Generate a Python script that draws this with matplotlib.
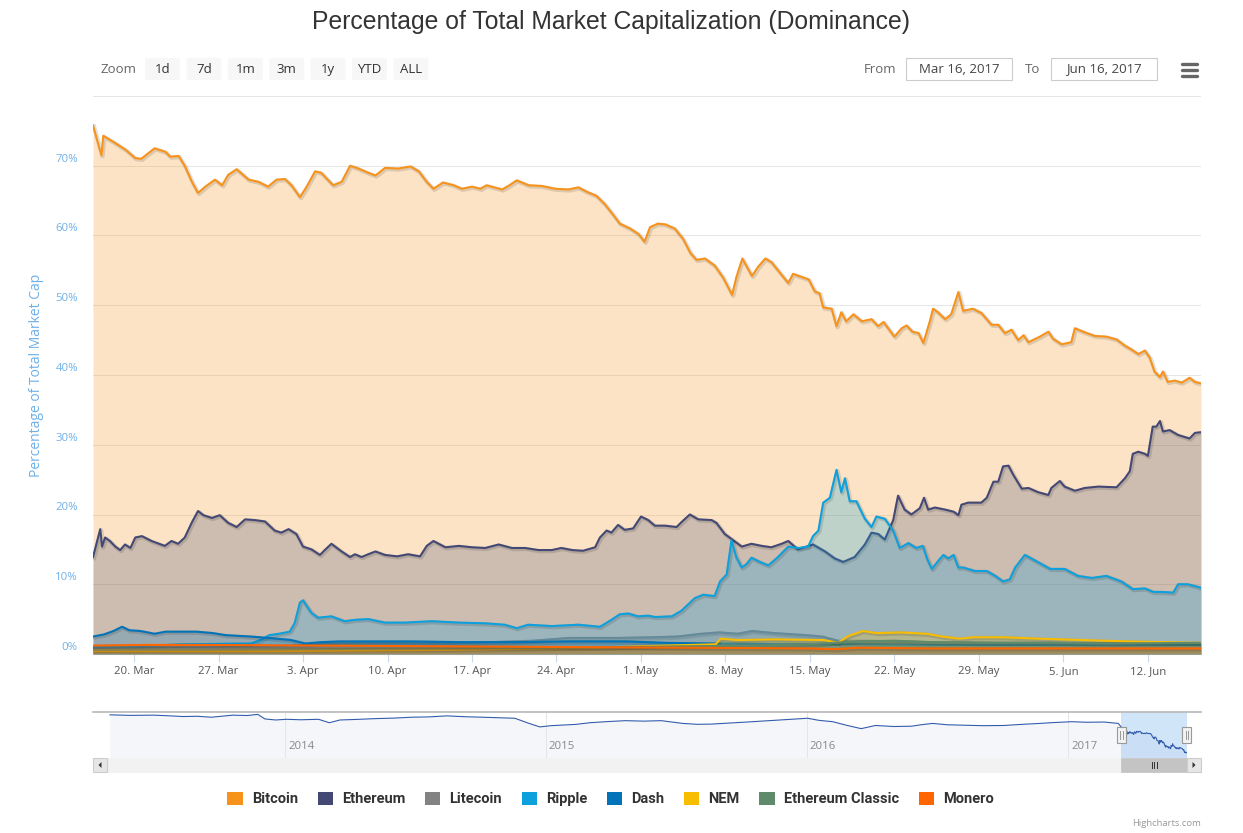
import datetime as dt
import matplotlib
matplotlib.use("Agg")
import matplotlib.pyplot as plt
import matplotlib.dates as mdates
import matplotlib.patheffects as pe
import matplotlib.transforms as mtransforms
from matplotlib.patches import Rectangle, FancyBboxPatch, Patch
from matplotlib.ticker import FuncFormatter

plt.rcParams['font.family'] = ['Open Sans', 'DejaVu Sans']

W, H = 1243, 833

# --- datos (dias desde el 16-mar-2017, % de dominancia) ---
start = dt.datetime(2017, 3, 16)
nav_start = dt.datetime(2013, 4, 28)

names = ['Bitcoin', 'Ethereum', 'Litecoin', 'Ripple', 'Dash', 'NEM',
         'Ethereum Classic', 'Monero']
colors = ['#f7931a', '#434875', '#838383', '#0ca0dc', '#0073b9', '#f9bd00',
          '#5f8b6c', '#ff6600']

btc = [(0.6, 75.8), (1.3, 71.5), (1.45, 74.3), (2.4, 73.3), (3.3, 72.3), (4.1, 71.1), (4.6, 71.0),
       (5.7, 72.5), (6.6, 72.0), (7.0, 71.3), (7.7, 71.4), (8.2, 70.0), (8.8, 67.7), (9.3, 66.1),
       (9.9, 67.0), (10.7, 68.0), (11.3, 67.2), (11.8, 68.7), (12.5, 69.5), (13.5, 68.0), (14.3, 67.7),
       (15.1, 67.0), (15.8, 68.0), (16.5, 68.1), (17.05, 67.2), (17.75, 65.5), (18.3, 67.0), (19.0, 69.2),
       (19.5, 69.0), (20.5, 67.2), (21.2, 67.7), (21.9, 70.0), (22.6, 69.6), (23.4, 69.0), (24.0, 68.6),
       (24.8, 69.7), (25.9, 69.6), (26.9, 69.9), (27.6, 69.2), (28.25, 67.7), (28.8, 66.7), (29.6, 67.6),
       (30.5, 67.2), (31.15, 66.7), (32.0, 67.0), (32.7, 66.7), (33.2, 67.2), (34.5, 66.6), (35.1, 67.2),
       (35.7, 67.9), (36.7, 67.2), (37.8, 67.1), (38.9, 66.7), (40.0, 66.6), (40.8, 66.9), (41.6, 66.2),
       (42.3, 65.7), (43.0, 64.5), (43.6, 63.2), (44.25, 61.7), (45.1, 61.0), (45.8, 60.2), (46.3, 59.1),
       (46.75, 61.2), (47.4, 61.7), (48.0, 61.6), (48.8, 61.0), (49.5, 59.5), (50.1, 57.5), (50.6, 56.5),
       (51.3, 56.7), (52.1, 55.7), (52.8, 54.0), (53.55, 51.5), (53.9, 54.0), (54.4, 56.7), (55.2, 54.2),
       (55.7, 55.5), (56.3, 56.7), (56.8, 56.2), (57.5, 54.7), (58.2, 53.2), (58.6, 54.5), (59.9, 53.7),
       (60.4, 52.0), (60.8, 51.7), (61.1, 49.7), (61.8, 49.5), (62.2, 47.0), (62.6, 49.0), (63.0, 47.7),
       (63.6, 48.7), (64.3, 47.7), (65.1, 48.0), (65.65, 47.0), (66.1, 47.6), (67.0, 45.5), (67.6, 46.7),
       (68.0, 47.1), (68.5, 46.2), (69.0, 46.0), (69.4, 44.6), (69.95, 47.8), (70.2, 49.5), (70.6, 49.0),
       (71.2, 48.0), (71.7, 48.7), (72.3, 51.9), (72.7, 49.2), (73.5, 49.5), (74.2, 48.9), (75.05, 47.2),
       (75.6, 47.2), (76.15, 46.0), (76.7, 46.5), (77.25, 45.0), (77.7, 45.7), (78.1, 44.7), (79.05, 45.5),
       (79.75, 46.2), (80.15, 45.2), (80.85, 44.4), (81.65, 44.7), (81.95, 46.7), (82.8, 46.1), (83.6, 45.6),
       (84.55, 45.5), (85.4, 45.1), (86.1, 44.2), (86.6, 43.7), (87.2, 43.0), (87.75, 43.5), (88.15, 42.5),
       (88.55, 40.5), (89.0, 39.7), (89.25, 40.5), (89.65, 39.0), (90.2, 39.2), (90.8, 38.9), (91.45, 39.6),
       (91.9, 39.0), (92.4, 38.8)]

eth = [(0.6, 13.9), (1.2, 17.9), (1.35, 15.4), (1.6, 16.7), (2.0, 16.2), (2.45, 15.4), (2.85, 14.9),
       (3.25, 15.7), (3.7, 15.2), (4.1, 16.7), (4.65, 16.9), (5.45, 16.2), (6.55, 15.5), (7.1, 16.2),
       (7.65, 15.8), (8.2, 16.7), (8.8, 18.9), (9.3, 20.5), (9.75, 19.9), (10.45, 19.5), (11.1, 19.9),
       (11.8, 18.8), (12.5, 18.2), (13.2, 19.3), (14.0, 19.2), (14.85, 19.0), (15.65, 17.7), (16.2, 17.4),
       (16.8, 17.9), (17.45, 17.2), (18.0, 15.4), (18.7, 15.0), (19.4, 14.2), (19.8, 14.9), (20.35, 15.8),
       (21.2, 14.7), (21.9, 13.9), (22.3, 14.3), (22.85, 13.9), (23.4, 14.3), (24.0, 14.7), (24.8, 14.2),
       (25.8, 14.0), (26.7, 14.3), (27.7, 14.0), (28.25, 15.5), (28.8, 16.2), (29.8, 15.3), (30.9, 15.5),
       (32.0, 15.3), (33.1, 15.2), (34.2, 15.7), (35.3, 15.2), (36.4, 15.2), (37.5, 14.9), (38.6, 14.9),
       (39.4, 15.2), (40.3, 14.9), (41.2, 14.8), (42.2, 15.3), (42.6, 16.7), (43.15, 17.7), (43.55, 17.4),
       (44.1, 18.5), (44.65, 17.8), (45.35, 18.0), (46.0, 19.7), (46.6, 19.2), (47.15, 18.4), (48.0, 18.4),
       (48.95, 18.2), (49.35, 18.9), (50.05, 20.0), (50.75, 19.3), (51.85, 19.2), (52.25, 18.8), (52.95, 17.2),
       (53.65, 16.3), (54.35, 15.4), (55.15, 15.8), (56.0, 15.5), (56.8, 15.3), (57.65, 15.8), (58.2, 16.2),
       (59.0, 15.0), (60.25, 15.7), (61.25, 14.7), (62.05, 13.7), (62.75, 13.2), (63.7, 13.9), (64.55, 15.7),
       (65.1, 17.4), (65.65, 17.2), (66.2, 16.4), (66.9, 19.2), (67.3, 22.7), (67.85, 20.7), (68.4, 20.0),
       (69.1, 20.9), (69.45, 22.4), (69.8, 20.7), (70.35, 21.0), (71.2, 20.7), (71.9, 20.4), (72.3, 19.9),
       (72.55, 21.4), (73.1, 21.7), (74.2, 21.7), (74.65, 22.4), (75.2, 24.7), (75.6, 24.7), (76.0, 26.9),
       (76.45, 27.0), (76.85, 25.7), (77.55, 23.7), (78.1, 23.8), (78.9, 23.2), (79.75, 22.8), (80.0, 23.8),
       (80.7, 24.8), (81.1, 24.0), (81.95, 23.4), (82.75, 23.8), (83.9, 24.0), (85.4, 23.9), (86.1, 25.2),
       (86.5, 26.2), (86.75, 28.7), (87.2, 29.0), (87.75, 28.7), (88.0, 28.4), (88.4, 32.6), (88.7, 32.6),
       (89.0, 33.4), (89.25, 31.9), (89.8, 32.1), (90.5, 31.4), (91.45, 30.9), (91.9, 31.7), (92.4, 31.8)]

ltc = [(0.6, 0.9), (10.0, 0.9), (17.0, 1.2), (20.0, 1.5), (30.0, 1.5), (37.0, 1.9), (40.0, 2.3),
       (44.0, 2.3), (47.0, 2.4), (49.0, 2.5), (51.0, 2.9), (52.5, 3.1), (54.0, 2.9), (55.2, 3.3),
       (57.0, 3.0), (59.7, 2.7), (61.0, 2.5), (62.3, 1.9), (65.0, 1.9), (70.0, 1.7), (80.0, 1.6),
       (92.4, 1.5)]

xrp = [(0.6, 1.0), (4.0, 1.1), (8.1, 1.4), (13.7, 1.5), (14.6, 2.1), (15.2, 2.7), (16.0, 2.9),
       (16.9, 3.2), (17.3, 4.4), (17.75, 7.4), (18.0, 7.7), (18.3, 6.9), (18.7, 5.9), (19.25, 5.2),
       (20.35, 5.4), (21.45, 4.7), (22.3, 4.9), (23.4, 5.0), (24.8, 4.5), (26.45, 4.5), (28.65, 4.7),
       (30.9, 4.5), (33.1, 4.4), (34.7, 4.2), (35.7, 3.7), (36.65, 4.2), (38.6, 4.0), (40.8, 4.2),
       (42.6, 3.9), (43.55, 4.9), (44.25, 5.7), (44.95, 5.8), (45.75, 5.4), (46.6, 5.5), (47.15, 5.3),
       (48.55, 5.4), (49.35, 6.2), (50.45, 8.0), (51.15, 8.5), (52.1, 8.3), (52.55, 10.4), (53.1, 11.4),
       (53.5, 16.3), (53.9, 13.9), (54.35, 12.4), (54.75, 12.9), (55.15, 13.8), (55.85, 13.2), (56.55, 12.7),
       (57.35, 13.9), (58.2, 15.4), (59.05, 15.2), (59.85, 15.4), (60.25, 16.9), (60.7, 17.7), (61.1, 21.7),
       (61.65, 22.4), (62.2, 26.4), (62.6, 23.2), (62.9, 25.2), (63.3, 21.9), (63.85, 21.9), (64.55, 19.4),
       (65.1, 18.2), (65.5, 19.7), (66.2, 19.4), (66.9, 17.7), (67.45, 15.2), (68.15, 15.9), (68.8, 15.2),
       (69.35, 15.5), (69.75, 13.5), (70.1, 12.2), (70.65, 13.4), (71.05, 14.2), (71.45, 13.7), (71.9, 14.2),
       (72.3, 12.4), (72.7, 12.4), (73.65, 11.9), (74.65, 11.9), (75.35, 11.2), (76.0, 10.4), (76.55, 10.7),
       (77.0, 12.4), (77.8, 14.2), (78.65, 13.4), (79.9, 12.2), (81.1, 12.2), (82.2, 11.2), (83.35, 10.9),
       (84.55, 11.2), (85.8, 10.4), (86.75, 9.3), (87.75, 9.4), (88.45, 8.9), (89.1, 8.9), (90.1, 8.8),
       (90.5, 10.0), (91.3, 10.0), (92.4, 9.5)]

dash = [(0.6, 2.5), (1.5, 2.8), (2.3, 3.3), (3.0, 3.9), (3.6, 3.4), (4.5, 3.3), (5.7, 2.9), (6.6, 3.2),
        (8.0, 3.2), (9.2, 3.2), (10.5, 3.0), (11.6, 2.7), (13.7, 2.5), (15.8, 2.2), (17.0, 2.0),
        (18.2, 1.5), (19.5, 1.7), (21.0, 1.8), (27.0, 1.8), (31.0, 1.7), (35.9, 1.7), (40.0, 1.8),
        (44.8, 1.8), (48.0, 1.6), (52.0, 1.5), (58.0, 1.4), (64.0, 1.4), (70.0, 1.3), (80.0, 1.3),
        (92.4, 1.3)]

nem = [(0.6, 0.4), (15.0, 0.4), (30.0, 0.6), (42.0, 0.9), (48.0, 1.2), (52.2, 1.4), (52.6, 2.2),
       (54.0, 2.0), (57.0, 2.1), (61.2, 2.0), (62.3, 1.6), (63.2, 2.6), (64.4, 3.3), (65.5, 3.0),
       (67.5, 3.1), (69.7, 2.9), (71.0, 2.5), (72.4, 2.2), (73.5, 2.4), (76.0, 2.4), (79.0, 2.2),
       (86.4, 1.8), (92.4, 1.6)]

etc = [(0.6, 0.6), (10.0, 0.6), (20.0, 0.7), (30.0, 0.8), (40.0, 0.9), (45.0, 1.0), (50.0, 1.1),
       (55.0, 1.2), (60.0, 1.4), (64.0, 1.8), (67.0, 1.9), (70.0, 1.7), (75.0, 1.6), (80.0, 1.6),
       (85.0, 1.5), (92.4, 1.6)]

xmr = [(0.6, 1.2), (5.0, 1.3), (10.0, 1.3), (20.0, 1.2), (30.0, 1.1), (40.0, 1.0), (50.0, 0.9),
       (60.0, 0.8), (62.0, 0.7), (64.0, 0.9), (70.0, 0.8), (80.0, 0.8), (92.4, 0.8)]

series = [btc, eth, ltc, xrp, dash, nem, etc, xmr]

# historia de dominancia de bitcoin para el navegador (dias desde 28-abr-2013)
nav_hist = [(2.8, 94.0), (30.0, 93.2), (64.8, 93.5), (85.0, 92.6), (104.8, 91.5), (125.0, 91.9),
            (144.7, 90.5), (160.0, 92.0), (174.7, 93.5), (195.0, 93.0), (209.7, 94.6), (219.7, 88.0),
            (234.7, 86.5), (249.7, 87.5), (270.0, 86.8), (294.7, 87.5), (309.7, 82.5), (324.7, 86.5),
            (350.0, 87.4), (374.6, 88.5), (400.0, 89.2), (424.6, 90.5), (450.0, 91.0), (474.6, 92.5),
            (500.0, 91.2), (524.6, 90.5), (550.0, 89.6), (569.5, 89.0), (589.5, 81.5), (604.5, 76.4),
            (620.0, 78.2), (634.5, 79.0), (655.0, 80.1), (674.5, 82.5), (700.0, 84.2), (724.5, 85.5),
            (750.0, 84.8), (774.4, 85.5), (790.0, 83.5), (804.5, 81.5), (825.0, 80.2), (844.4, 80.5),
            (870.0, 82.0), (894.4, 83.5), (925.0, 85.5), (954.4, 87.5), (979.4, 89.0), (995.0, 86.0),
            (1014.4, 84.0), (1035.0, 78.5), (1054.3, 73.9), (1074.3, 78.5), (1100.0, 77.0), (1124.3, 77.4),
            (1140.0, 79.8), (1154.4, 81.5), (1175.0, 79.5), (1194.3, 79.0), (1225.0, 78.2), (1254.3, 78.5),
            (1280.0, 80.2), (1304.2, 81.5), (1325.0, 82.8), (1349.2, 84.0), (1370.0, 83.2), (1394.2, 83.5),
            (1414.2, 81.5)]
nav_years = [2014, 2015, 2016, 2017]

zoom_buttons = ['1d', '7d', '1m', '3m', '1y', 'YTD', 'ALL']
from_text = 'Mar 16, 2017'
to_text = 'Jun 16, 2017'

t0 = mdates.date2num(start)
n0 = mdates.date2num(nav_start)
t_first, t_last = t0 + btc[0][0], t0 + btc[-1][0]


def box(x0, y0, w, h):
    # caja en pixeles -> fraccion de figura
    return [x0 / W, 1 - (y0 + h) / H, w / W, h / H]


def pixel_layer():
    a = fig.add_axes([0, 0, 1, 1])
    a.set_xlim(0, W)
    a.set_ylim(H, 0)
    a.axis('off')
    return a


fig = plt.figure(figsize=(W / 100, H / 100), dpi=100)
fig.patch.set_facecolor('white')

ov = pixel_layer()

# --- grafico principal ---
ax = fig.add_axes(box(93, 96, 1108, 558))
ax.patch.set_alpha(0)
shadow = [pe.SimpleLineShadow(offset=(0.8, -0.8), shadow_color='k', alpha=0.12, linewidth=3),
          pe.Normal()]
for i, (pts, c) in enumerate(zip(series, colors)):
    d = [t0 + p[0] for p in pts]
    v = [p[1] for p in pts]
    ax.fill_between(d, 0, v, color=c, alpha=0.25, lw=0, zorder=2 + 2 * i)
    ax.plot(d, v, color=c, lw=1.5, zorder=3 + 2 * i, solid_joinstyle='round',
            path_effects=shadow)

ax.set_xlim(t_first, t_last)
ax.set_ylim(0, 80)
ax.set_yticks(range(0, 81, 10))
ax.yaxis.grid(True, color='#e6e6e6', lw=0.75)
ax.tick_params(axis='y', length=0, labelleft=False)
for s in ['top', 'left', 'right']:
    ax.spines[s].set_visible(False)
ax.spines['bottom'].set_color('#ccd6eb')

ylab_tr = mtransforms.offset_copy(
    mtransforms.blended_transform_factory(ax.transAxes, ax.transData),
    fig=fig, x=-15, y=6.5, units='dots')
for v in range(0, 80, 10):
    ax.text(0, v, f'{v}%', transform=ylab_tr, ha='right', va='center',
            fontsize=8.2, color='#6fb0e8')

ax.xaxis.set_major_locator(mdates.WeekdayLocator(byweekday=mdates.MO))
ax.xaxis.set_major_formatter(FuncFormatter(
    lambda x, p: f'{mdates.num2date(x).day}. {mdates.num2date(x):%b}'))
ax.tick_params(axis='x', length=6, width=0.8, color='#ccd6eb', labelsize=8.2,
               labelcolor='#555555', pad=2.5)

fig.text(37 / W, 1 - 375 / H, 'Percentage of Total Market Cap', rotation=90,
         ha='center', va='center', fontsize=10, color='#6fb0e8')

fig.text(611 / W, 1 - 22 / H, 'Percentage of Total Market Capitalization (Dominance)',
         ha='center', va='center', fontsize=17.8, color='#333333',
         family=['Liberation Sans', 'DejaVu Sans'])

# --- selector de rango ---
ov.text(101, 69, 'Zoom', ha='left', va='center', fontsize=9.5, color='#666666')
for i, lab in enumerate(zoom_buttons):
    bx = 145 + i * 41.4
    ov.add_patch(FancyBboxPatch((bx, 58), 35, 22, boxstyle='round,pad=0,rounding_size=2',
                                fc='#f7f7f7', ec='none'))
    ov.text(bx + 17.5, 69, lab, ha='center', va='center', fontsize=9.5, color='#333333')

ov.text(864, 69, 'From', ha='left', va='center', fontsize=9.5, color='#666666')
ov.add_patch(Rectangle((906, 58), 106, 22, fc='white', ec='#cccccc', lw=0.8))
ov.text(959, 69, from_text, ha='center', va='center', fontsize=9.5, color='#444444')
ov.text(1025, 69, 'To', ha='left', va='center', fontsize=9.5, color='#666666')
ov.add_patch(Rectangle((1051, 58), 106, 22, fc='white', ec='#cccccc', lw=0.8))
ov.text(1104, 69, to_text, ha='center', va='center', fontsize=9.5, color='#444444')
for yy in (64, 70, 76):
    ov.plot([1182, 1197], [yy, yy], color='#666666', lw=2.4, solid_capstyle='round')

# --- navegador ---
nav = fig.add_axes(box(108, 712, 1079, 46))
nav_d = [n0 + p[0] for p in nav_hist] + [t0 + p[0] for p in btc]
nav_v = [p[1] for p in nav_hist] + [p[1] for p in btc]
nav.fill_between(nav_d, 0, nav_v, color='#335cad', alpha=0.05, lw=0)
nav.plot(nav_d, nav_v, color='#335cad', lw=0.8)
nav.set_xlim(n0, t_last)
nav.set_ylim(31.2, 98.1)
year_nums = [mdates.date2num(dt.datetime(y, 1, 1)) for y in nav_years]
nav.set_xticks(year_nums)
nav.set_yticks([])
nav.xaxis.grid(True, color='#e6e6e6', lw=0.75)
nav.tick_params(axis='x', length=0, labelbottom=False)
for s in nav.spines.values():
    s.set_visible(False)
ytr = mtransforms.offset_copy(
    mtransforms.blended_transform_factory(nav.transData, nav.transAxes),
    fig=fig, x=3, y=0, units='dots')
for y, xn in zip(nav_years, year_nums):
    nav.text(xn, 0.26, str(y), transform=ytr, ha='left', va='center',
             fontsize=8.2, color='#888888')
nav.axvspan(t_first, t_last, color='#7cb5ec', alpha=0.35, lw=0)


def nav_px(num):
    return 108 + (num - n0) / (t_last - n0) * 1079


top = pixel_layer()
top.plot([93, 1201], [712, 712], color='#b8b8b8', lw=1.2)
sel0, sel1 = nav_px(t_first), nav_px(t_last)

# barra de desplazamiento
top.add_patch(Rectangle((93, 758), 1108, 14, fc='#f2f2f2', ec='#f2f2f2', lw=0.5))
top.add_patch(Rectangle((sel0, 758), sel1 - sel0, 14, fc='#c4c4c4', ec='#c4c4c4', lw=0.5))
for gx in (-2.5, 0, 2.5):
    top.plot([(sel0 + sel1) / 2 + gx] * 2, [762, 768], color='#333333', lw=0.7)
for bx, d in ((93, -1), (1187, 1)):
    top.add_patch(Rectangle((bx, 758), 14, 14, fc='#e6e6e6', ec='#cccccc', lw=0.8))
    cx = bx + 7
    top.fill([cx - 1.5 * d, cx + 1.5 * d, cx - 1.5 * d], [762, 765, 768], color='#333333', lw=0)

# asas del navegador
for hx in (sel0, sel1):
    top.add_patch(Rectangle((hx - 4.5, 727), 9, 16, fc='#f2f2f2', ec='#999999', lw=0.8))
    for gx in (-1.3, 1.3):
        top.plot([hx + gx] * 2, [731, 739], color='#999999', lw=0.7)

# --- leyenda ---
handles = [Patch(facecolor=c, edgecolor='none', label=n) for n, c in zip(names, colors)]
fig.legend(handles=handles, loc='center', bbox_to_anchor=(610.5 / W, 1 - 799 / H), ncol=8,
           frameon=False, handlelength=1.05, handleheight=1.05, handletextpad=0.62,
           columnspacing=1.35, labelcolor='#333333',
           prop={'family': ['Roboto', 'DejaVu Sans'], 'weight': 'bold', 'size': 10.5})

top.text(1201, 823, 'Highcharts.com', ha='right', va='center', fontsize=6.8, color='#999999')

fig.savefig('out.png', dpi=100)
